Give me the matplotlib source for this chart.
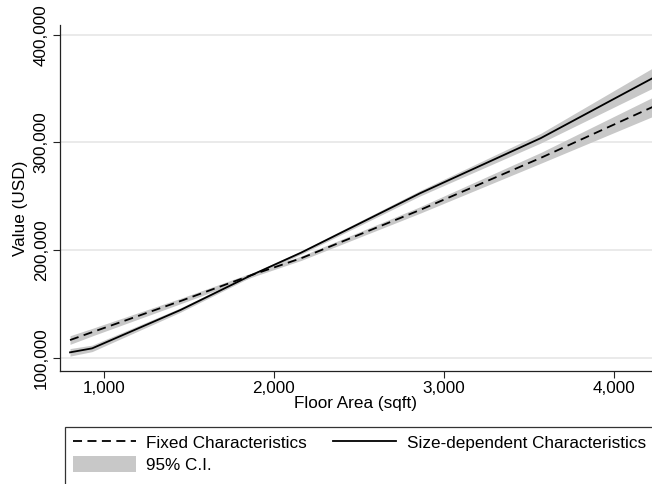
import numpy as np
import matplotlib.pyplot as plt
from matplotlib.patches import Patch, Rectangle
from matplotlib.lines import Line2D
from matplotlib.ticker import FuncFormatter

plt.rcParams['font.family'] = ['Liberation Sans', 'DejaVu Sans']

# predicted values by floor area
floor_area = [800, 930, 1450, 1870, 2160, 2860, 3570, 4250]
fixed = [116700, 124000, 152900, 177100, 192600, 237400, 285700, 334500]
fixed_ci = [4000, 3500, 2500, 2000, 2000, 3000, 5000, 9000]
size_dep = [105300, 109000, 144600, 177100, 197800, 252900, 304000, 361500]
size_dep_ci = [3500, 3000, 2000, 1500, 1500, 2500, 4500, 9500]

x_ticks = [1000, 2000, 3000, 4000]
y_ticks = [100000, 200000, 300000, 400000]

FS = 12.3
CI_COLOR = '#c8c8c8'

fig = plt.figure(figsize=(6.52, 4.84), dpi=100)
ax = fig.add_axes([60/652, 1 - 371/484, 1 - 60/652, (371 - 25)/484])

x = np.array(floor_area)
f = np.array(fixed); fc = np.array(fixed_ci)
s = np.array(size_dep); sc = np.array(size_dep_ci)

ax.fill_between(x, f - fc, f + fc, color=CI_COLOR, lw=0, zorder=2)
ax.fill_between(x, s - sc, s + sc, color=CI_COLOR, lw=0, zorder=2)
ax.plot(x, f, color='black', lw=1.3, dashes=(5, 3), zorder=3)
ax.plot(x, s, color='black', lw=1.3, zorder=3)

ax.set_xlim(741, 4225)
ax.set_ylim(88000, 409000)
ax.set_xticks(x_ticks)
ax.set_yticks(y_ticks)
comma = FuncFormatter(lambda v, p: f"{int(v):,}")
ax.xaxis.set_major_formatter(comma)
ax.yaxis.set_major_formatter(comma)
ax.tick_params(labelsize=FS, length=5, width=0.8, color='#222222', pad=2)
ax.tick_params(axis='y', pad=3)
for lab in ax.get_yticklabels():
    lab.set_rotation(90)
    lab.set_va('center')

ax.grid(axis='y', color='#e8e8e8', lw=1.3, zorder=0)
ax.set_axisbelow(True)
for side in ['top', 'right']:
    ax.spines[side].set_visible(False)
for side in ['left', 'bottom']:
    ax.spines[side].set_color('#222222')
    ax.spines[side].set_linewidth(0.9)

ax.set_xlabel('Floor Area (sqft)', fontsize=FS, labelpad=0)
ax.set_ylabel('Value (USD)', fontsize=FS)
ax.yaxis.set_label_coords(-0.054, 0.47)

handles = [
    Line2D([], [], color='black', lw=1.3, dashes=(5, 3)),
    Patch(facecolor=CI_COLOR, edgecolor='none'),
    Line2D([], [], color='black', lw=1.3),
]
labels = ['Fixed Characteristics', '95% C.I.', 'Size-dependent Characteristics']
leg = fig.legend(handles, labels, ncol=2, loc='upper left',
                 bbox_to_anchor=(65/652, 1 - 427/484), fontsize=FS,
                 frameon=False,
                 handlelength=3.7, handleheight=1.0, handletextpad=0.62,
                 columnspacing=1.5, borderpad=0.45, labelspacing=0.3,
                 borderaxespad=0)

# legend box runs off the bottom/right of the figure
fig.patches.append(Rectangle((65/652, -0.2), 1.0, 0.2 + (484 - 427)/484,
                             transform=fig.transFigure, fill=False,
                             edgecolor='#333333', lw=0.9))

fig.savefig('out.png', dpi=100)
